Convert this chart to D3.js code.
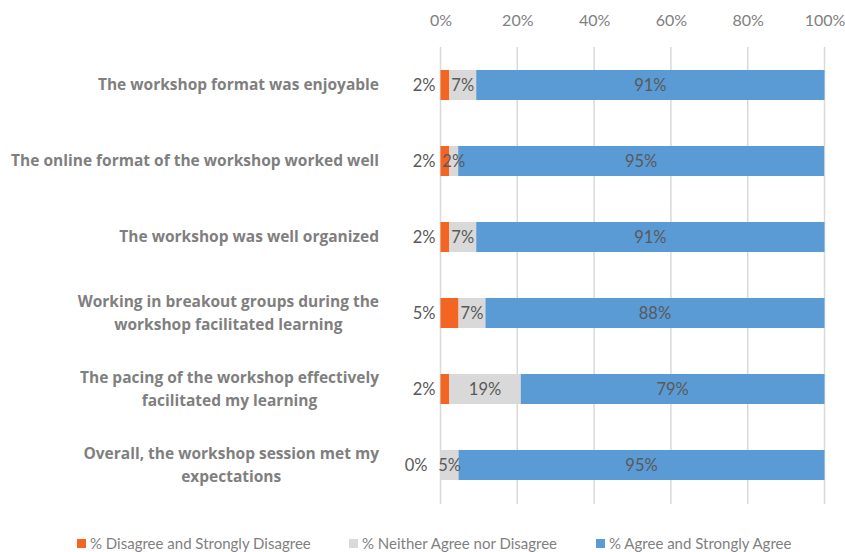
<!DOCTYPE html>
<meta charset="utf-8">
<title>Workshop survey</title>
<body style="margin:0;background:#fff">
<style>
body { font-family: Lato, "Open Sans", sans-serif; }
.tick text { fill: #808080; font-size: 16px; }
.cat { fill: #7f7f7f; font-size: 15.5px; font-weight: bold; font-family: "Open Sans", sans-serif; }
.lbl { fill: #595959; font-size: 16.5px; }
.leg { fill: #7f7f7f; font-size: 15px; }
</style>
<script src="https://d3js.org/d3.v7.min.js"></script>
<script>
var categories = [
  ["The workshop format was enjoyable"],
  ["The online format of the workshop worked well"],
  ["The workshop was well organized"],
  ["Working in breakout groups during the", "workshop facilitated learning"],
  ["The pacing of the workshop effectively", "facilitated my learning"],
  ["Overall, the workshop session met my", "expectations"]
];
var disagree = [2.3, 2.3, 2.3, 4.7, 2.3, 0];
var neither  = [7.0, 2.3, 7.0, 7.0, 18.6, 4.7];
var agree    = [90.7, 95.3, 90.7, 88.3, 79.1, 95.3];
var seriesNames = ["% Disagree and Strongly Disagree", "% Neither Agree nor Disagree", "% Agree and Strongly Agree"];
var colors = ["#f26522", "#d9d9d9", "#5b9bd5"];
var ticks = [0, 20, 40, 60, 80, 100];

var width = 845, height = 552;
var svg = d3.select("body").append("svg").attr("width", width).attr("height", height);

var x = d3.scaleLinear().domain([0, 100]).range([440.5, 824.5]);
var y = d3.scaleBand().domain(d3.range(categories.length)).range([47, 503])
  .paddingInner(0.605).paddingOuter(0.3025);

// gridlines
svg.append("g").selectAll("line").data(ticks).enter().append("line")
  .attr("x1", d => x(d)).attr("x2", d => x(d))
  .attr("y1", 47).attr("y2", 504)
  .attr("stroke", "#d9d9d9").attr("stroke-width", 1.5);

// top axis
var axis = svg.append("g").attr("transform", "translate(0,26)")
  .call(d3.axisTop(x).tickValues(ticks).tickSize(0).tickPadding(0).tickFormat(d => d + "%"));
axis.select(".domain").remove();
axis.selectAll("text").style("font-family", "Lato, sans-serif");

var rows = categories.map((c, i) => ({i: i, vals: [disagree[i], neither[i], agree[i]]}));

rows.forEach(function(r) {
  var start = 0;
  var segs = r.vals.map(function(v, k) { var s = {k: k, v: v, x0: start, x1: start + v}; start += v; return s; });
  var g = svg.append("g");
  g.selectAll("rect").data(segs).enter().append("rect")
    .attr("x", d => x(d.x0)).attr("width", d => x(d.x1) - x(d.x0))
    .attr("y", y(r.i)).attr("height", y.bandwidth())
    .attr("fill", d => colors[d.k]);
  var cy = y(r.i) + y.bandwidth() / 2;
  g.selectAll("text").data(segs).enter().append("text")
    .attr("class", "lbl")
    .attr("x", d => d.k === 0 ? x(0) - (d.v === 0 ? 13 : 5) : x((d.x0 + d.x1) / 2))
    .attr("y", cy).attr("dy", "0.35em")
    .attr("text-anchor", d => d.k === 0 ? "end" : "middle")
    .text(d => Math.round(d.v) + "%");
});

// category labels
categories.forEach(function(lines, i) {
  var cy = y(i) + y.bandwidth() / 2;
  var lh = 23;
  var t = svg.append("text").attr("class", "cat").attr("text-anchor", "middle");
  var spans = lines.map((l, j) => t.append("tspan")
    .attr("y", cy + (j - (lines.length - 1) / 2) * lh).attr("dy", "0.35em").text(l));
  var maxW = d3.max(spans, s => s.node().getComputedTextLength());
  spans.forEach(s => s.attr("x", 379 - maxW / 2));
});

// legend
var legX = [77, 349, 596];
var leg = svg.append("g").selectAll("g").data(seriesNames).enter().append("g");
leg.append("rect").attr("x", (d, i) => legX[i]).attr("y", 539).attr("width", 9).attr("height", 9)
  .attr("fill", (d, i) => colors[i]);
leg.append("text").attr("class", "leg").attr("x", (d, i) => legX[i] + 13).attr("y", 544)
  .attr("dy", "0.35em").text(d => d);
</script>
</body>
